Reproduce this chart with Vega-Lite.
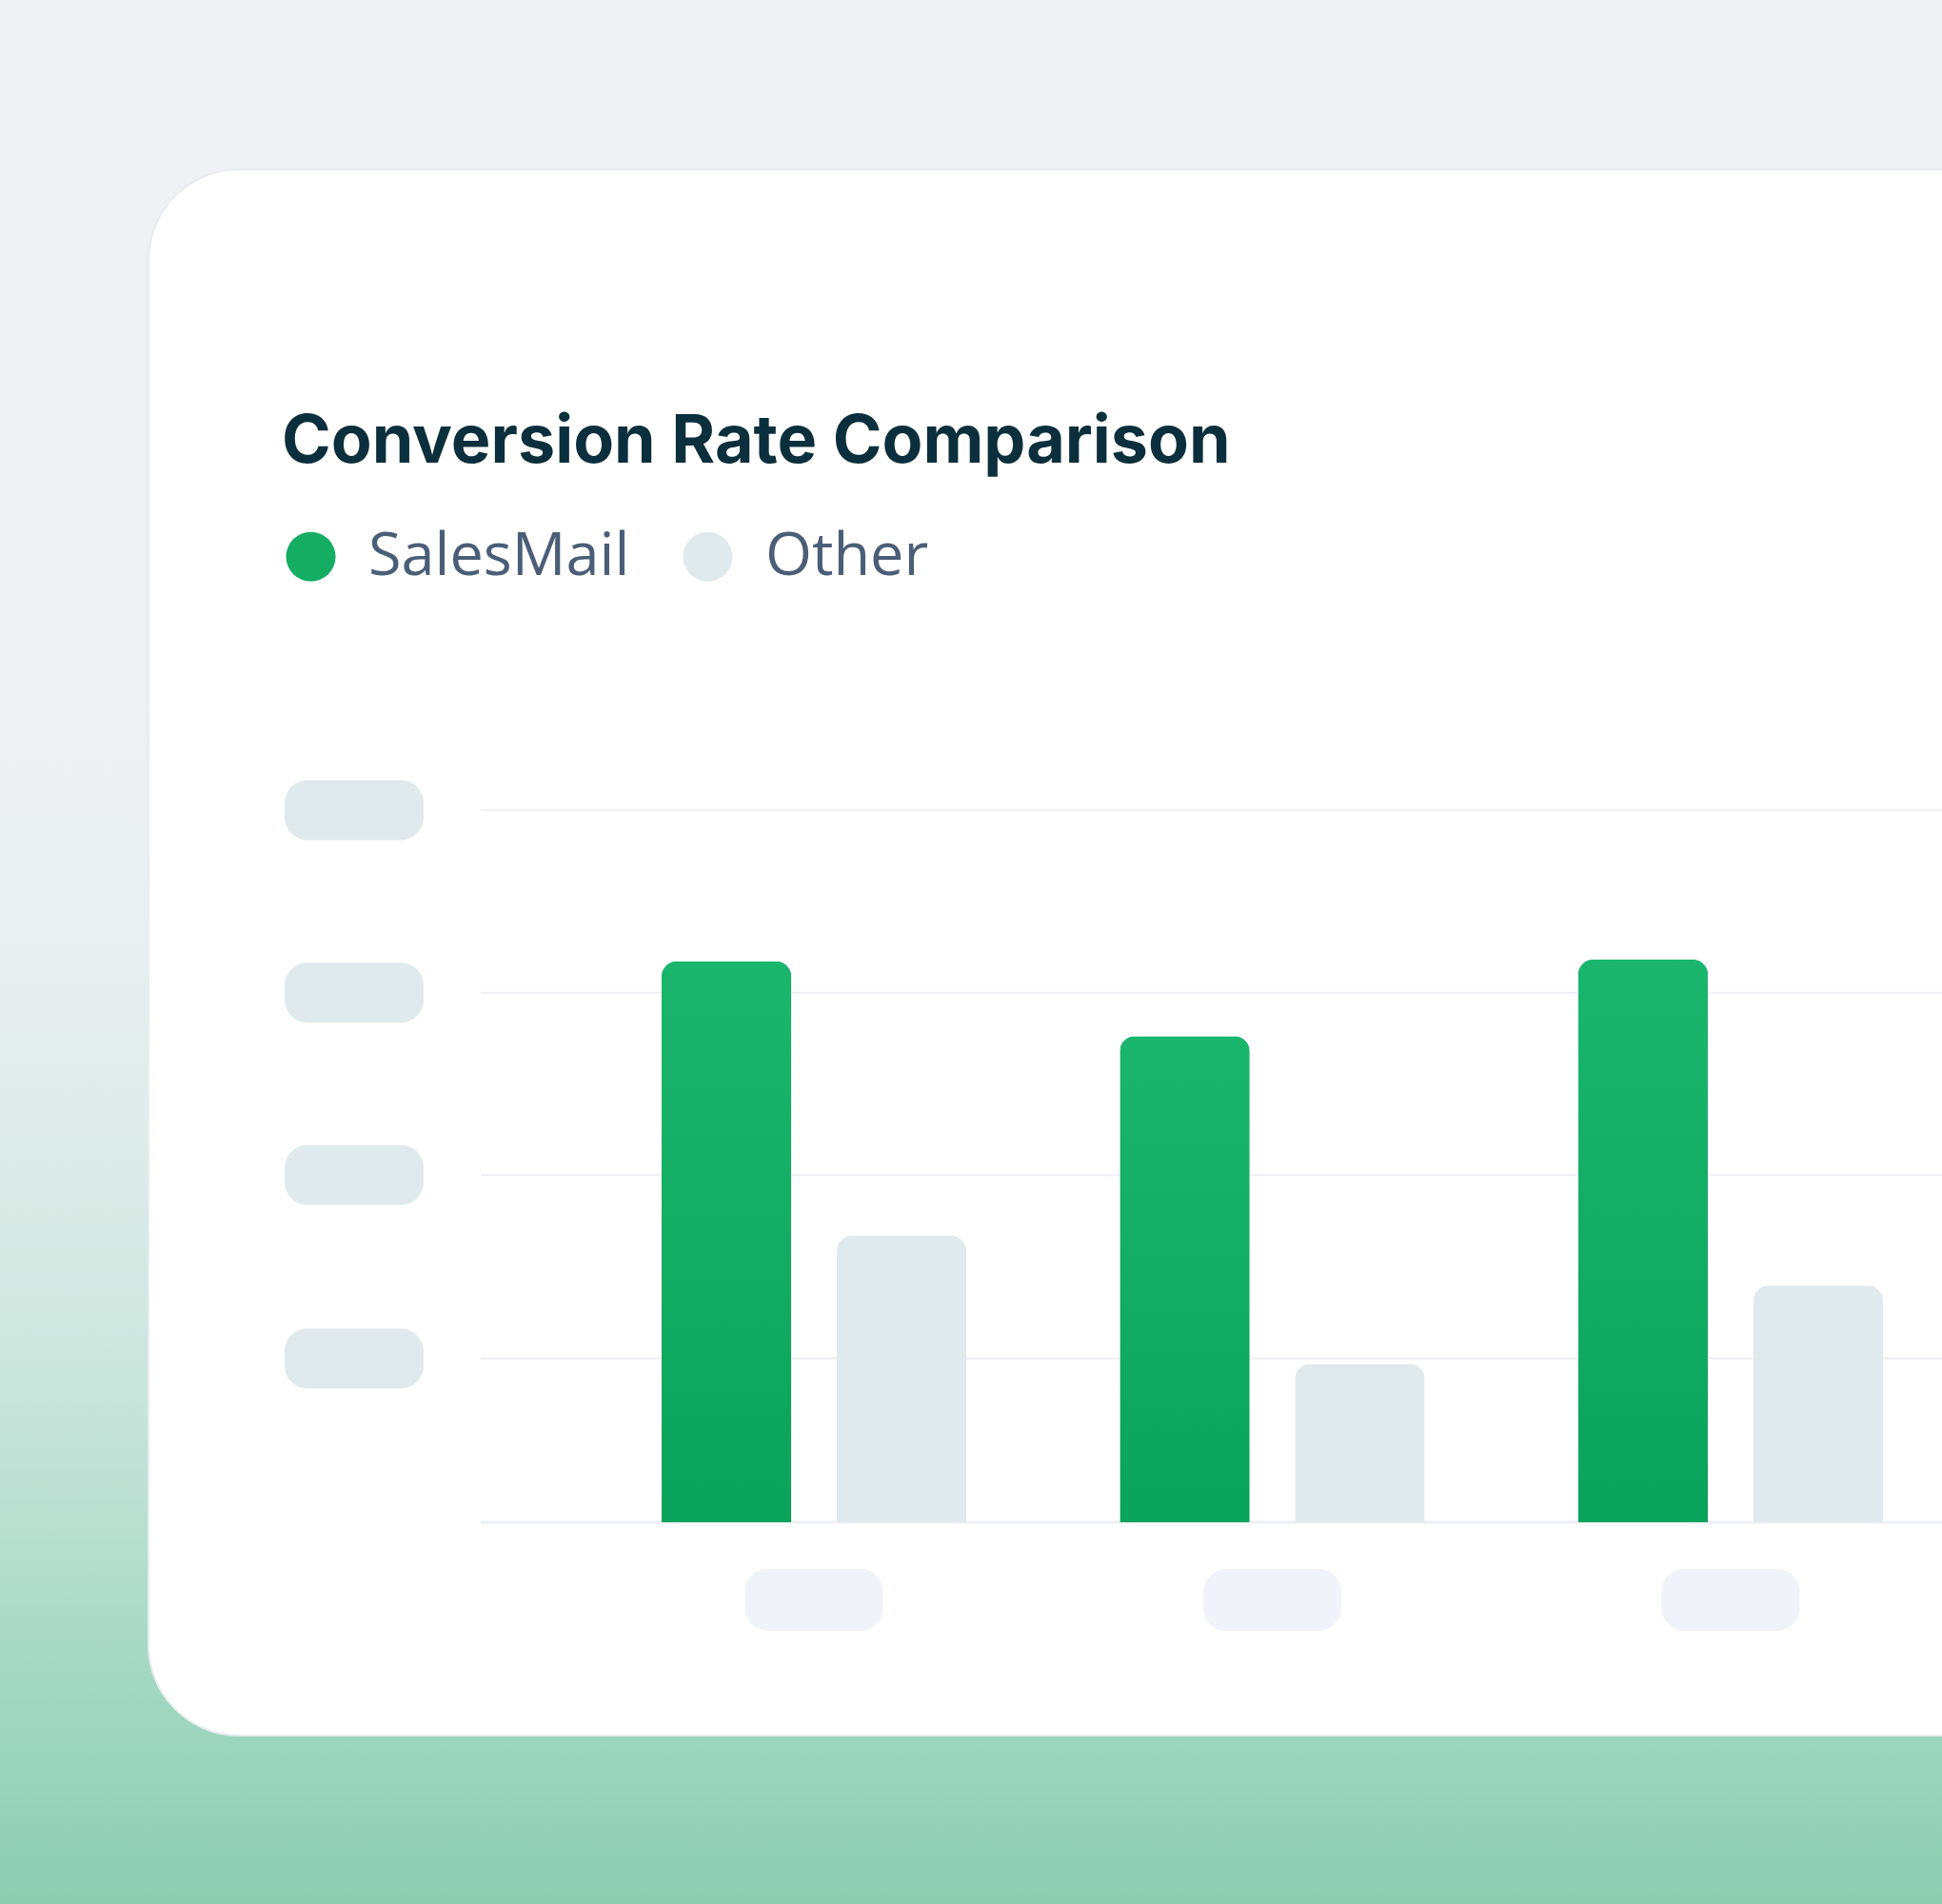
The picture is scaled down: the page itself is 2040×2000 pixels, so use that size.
{
  "$schema": "https://vega.github.io/schema/vega-lite/v6.json",
  "description": "Conversion rate comparison, SalesMail vs Other, on a card with placeholder axis labels.",
  "width": 2040,
  "height": 2000,
  "autosize": "none",
  "padding": 0,
  "background": "#eff1f5",
  "datasets": {
    "rates": [
      {"group": "Group 1", "series": "SalesMail", "rate": 31.5},
      {"group": "Group 1", "series": "Other", "rate": 16.1},
      {"group": "Group 2", "series": "SalesMail", "rate": 27.3},
      {"group": "Group 2", "series": "Other", "rate": 8.9},
      {"group": "Group 3", "series": "SalesMail", "rate": 31.6},
      {"group": "Group 3", "series": "Other", "rate": 13.3}
    ],
    "ticks": [{"t": 9.2}, {"t": 19.5}, {"t": 29.75}, {"t": 40}],
    "groups": [{"group": "Group 1"}, {"group": "Group 2"}, {"group": "Group 3"}],
    "one": [{}]
  },
  "data": {"name": "rates"},
  "layer": [
    {
      "data": {"name": "one"},
      "mark": {
        "type": "rect",
        "color": {
          "gradient": "linear",
          "x1": 0, "y1": 0, "x2": 0, "y2": 1,
          "stops": [
            {"offset": 0, "color": "#eff1f5"},
            {"offset": 0.35, "color": "#eff1f5"},
            {"offset": 0.5, "color": "#e8efee"},
            {"offset": 0.62, "color": "#dcebe7"},
            {"offset": 0.75, "color": "#c5e3d9"},
            {"offset": 0.9, "color": "#9fd6c0"},
            {"offset": 1, "color": "#8ccdb2"}
          ]
        }
      },
      "encoding": {
        "x": {"value": 0}, "x2": {"value": 2040},
        "y": {"value": 0}, "y2": {"value": 2000}
      }
    },
    {
      "data": {"name": "one"},
      "mark": {"type": "rect", "fill": "#ffffff", "stroke": "#e8ecef", "strokeWidth": 2, "cornerRadius": 95, "clip": true},
      "encoding": {
        "x": {"value": 156}, "x2": {"value": 2300},
        "y": {"value": 178}, "y2": {"value": 1823}
      }
    },
    {
      "data": {"name": "one"},
      "mark": {"type": "text", "font": "Inter", "fontWeight": 700, "fontSize": 70, "color": "#0b2f3d", "align": "left", "baseline": "alphabetic"},
      "encoding": {
        "text": {"value": "Conversion Rate Comparison"},
        "x": {"value": 296}, "y": {"value": 486}
      }
    },
    {
      "data": {"name": "ticks"},
      "mark": {"type": "rule", "color": "#eeeff3", "strokeWidth": 2},
      "encoding": {
        "y": {"field": "t", "type": "quantitative", "axis": null},
        "x": {"value": 505}, "x2": {"value": 2040}
      }
    },
    {
      "data": {"name": "one"},
      "mark": {"type": "rule", "color": "#eeeff3", "strokeWidth": 3},
      "encoding": {
        "y": {"datum": 0, "type": "quantitative", "axis": null},
        "x": {"value": 505}, "x2": {"value": 2040}
      }
    },
    {
      "data": {"name": "ticks"},
      "mark": {"type": "tick", "orient": "horizontal", "size": 146, "thickness": 63, "cornerRadius": 24, "color": "#e0eaed", "opacity": 1},
      "encoding": {
        "y": {"field": "t", "type": "quantitative", "axis": null},
        "x": {"value": 372}
      }
    },
    {
      "mark": {"type": "bar", "cornerRadiusTopLeft": 16, "cornerRadiusTopRight": 16},
      "encoding": {
        "x": {
          "field": "group", "type": "nominal", "axis": null,
          "scale": {"range": [695, 1978], "paddingInner": 0.335, "paddingOuter": 0}
        },
        "xOffset": {
          "field": "series", "type": "nominal",
          "scale": {"domain": ["SalesMail", "Other"], "paddingInner": 0.26, "paddingOuter": 0}
        },
        "y": {
          "field": "rate", "type": "quantitative", "axis": null,
          "scale": {"domain": [0, 40], "range": [1599, 851], "nice": false}
        },
        "color": {
          "field": "series", "type": "nominal",
          "scale": {"domain": ["SalesMail", "Other"], "range": ["#14ad63", "#e0eaed"]},
          "legend": {
            "orient": "none", "legendX": 295, "legendY": 553,
            "direction": "horizontal", "title": null,
            "symbolType": "circle", "symbolSize": 2704, "symbolStrokeWidth": 0, "symbolOpacity": 1,
            "labelFont": "Open Sans", "labelFontSize": 63, "labelColor": "#4b5e78",
            "labelOffset": 29, "columnPadding": 50, "labelBaseline": "middle", "labelLimit": 0
          }
        }
      }
    },
    {
      "transform": [{"filter": "datum.series === 'SalesMail'"}],
      "mark": {
        "type": "bar", "cornerRadiusTopLeft": 16, "cornerRadiusTopRight": 16,
        "color": {
          "gradient": "linear",
          "x1": 0, "y1": 0, "x2": 0, "y2": 1,
          "stops": [
            {"offset": 0, "color": "#1bb66d"},
            {"offset": 1, "color": "#0aa35b"}
          ]
        }
      },
      "encoding": {
        "x": {"field": "group", "type": "nominal", "axis": null},
        "xOffset": {"field": "series", "type": "nominal"},
        "y": {"field": "rate", "type": "quantitative", "axis": null}
      }
    },
    {
      "data": {"name": "groups"},
      "mark": {"type": "bar", "width": 145, "cornerRadius": 24, "color": "#f0f3f9"},
      "encoding": {
        "x": {"field": "group", "type": "nominal", "axis": null},
        "y": {"value": 1648}, "y2": {"value": 1713}
      }
    }
  ],
  "config": {
    "view": {"stroke": null},
    "axis": {"disable": true}
  }
}
